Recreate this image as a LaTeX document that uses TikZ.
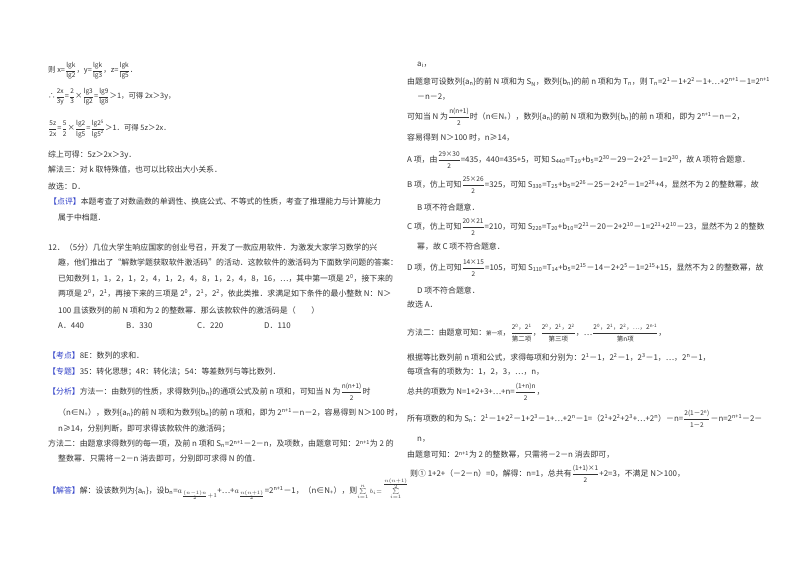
\documentclass[tikz,border=0pt]{standalone}
\usepackage{amsmath}
\usepackage{fontspec}
\setmainfont{Noto Sans CJK SC}
\newcommand\spx[1]{\textsuperscript{#1}}
\newcommand\sbx[1]{\textsubscript{#1}}
\newcommand\fr[2]{$\dfrac{\text{\fontsize{6.5}{7}\selectfont #1}}{\text{\fontsize{6.5}{7}\selectfont #2}}$}
\definecolor{txt}{HTML}{333333}
\definecolor{lab}{HTML}{2F3FC8}
\newcommand\lb[1]{\textcolor{lab}{【#1】}}
\begin{document}
\begin{tikzpicture}[x=1pt,y=-1pt,
  t/.style={anchor=west,inner sep=0pt,text=txt,font=\fontsize{7.9}{9}\selectfont},
  s/.style={t,font=\fontsize{7.4}{8}\selectfont}]
\useasboundingbox[fill=white] (0,0) rectangle (800,565);
% left column
\node[s] (l1) at (48,71) {则 x=\fr{lgk}{lg2}，y=\fr{lgk}{lg3}，z=\fr{lgk}{lg5}．};
\node[s] (l2) at (48,97) {∴\fr{2x}{3y}=\fr{2}{3}×\fr{lg3}{lg2}=\fr{lg9}{lg8}＞1，可得 2x＞3y，};
\node[s] (l3) at (48,129) {\fr{5z}{2x}=\fr{5}{2}×\fr{lg2}{lg5}=\fr{lg2\spx{5}}{lg5\spx{2}}＞1．可得 5z＞2x．};
\node[t] (l4) at (48,155) {综上可得：5z＞2x＞3y．};
\node[t] (l5) at (48,170) {解法三：对 k 取特殊值，也可以比较出大小关系．};
\node[t] (l6) at (48,186) {故选：D．};
\node[t] (l7) at (49,202) {\lb{点评}本题考查了对数函数的单调性、换底公式、不等式的性质，考查了推理能力与计算能力};
\node[t] (l8) at (58,217) {属于中档题．};
\node[t] (l9) at (48,248) {12．（5分）几位大学生响应国家的创业号召，开发了一款应用软件．为激发大家学习数学的兴};
\node[t] (l10) at (58,263) {趣，他们推出了“解数学题获取软件激活码”的活动．这款软件的激活码为下面数学问题的答案：};
\node[t] (l11) at (58,278) {已知数列 1，1，2，1，2，4，1，2，4，8，1，2，4，8，16，…，其中第一项是 2\spx{0}，接下来的};
\node[t] (l12) at (58,293) {两项是 2\spx{0}，2\spx{1}，再接下来的三项是 2\spx{0}，2\spx{1}，2\spx{2}，依此类推．求满足如下条件的最小整数 N：N＞};
\node[t] (l13) at (58,310) {100 且该数列的前 N 项和为 2 的整数幂．那么该款软件的激活码是（\quad\quad）};
\node[t] (oa) at (58,326) {A．440};
\node[t] (ob) at (126,326) {B．330};
\node[t] (oc) at (197,326) {C．220};
\node[t] (od) at (264,326) {D．110};
\node[t] (l14) at (48,355) {\lb{考点}8E：数列的求和．};
\node[t] (l15) at (48,372) {\lb{专题}35：转化思想；4R：转化法；54：等差数列与等比数列．};
\node[t] (l16) at (48,392) {\lb{分析}方法一：由数列的性质，求得数列\{b\sbx{n}\}的通项公式及前 n 项和，可知当 N 为\fr{n(n+1)}{2}时};
\node[t] (l17) at (58,413) {（n∈N\sbx{+}），数列\{a\sbx{n}\}的前 N 项和为数列\{b\sbx{n}\}的前 n 项和，即为 2\spx{n+1}－n－2，容易得到 N＞100 时，};
\node[t] (l18) at (58,429) {n≥14，分别判断，即可求得该款软件的激活码；};
\node[t] (l19) at (48,444) {方法二：由题意求得数列的每一项，及前 n 项和 S\sbx{n}=2\spx{n+1}－2－n，及项数，由题意可知：2\spx{n+1}为 2 的};
\node[t] (l20) at (58,459) {整数幂．只需将－2－n 消去即可，分别即可求得 N 的值．};
\node[t] (l21) at (48,489) {\lb{解答}解：设该数列为\{a\sbx{n}\}，设b\sbx{n}=$a_{\frac{(n-1)n}{2}+1}$+…+$a_{\frac{n(n+1)}{2}}$=2\spx{n+1}－1，（n∈N\sbx{+}），则{\fontsize{5.8}{7}\selectfont$\sum\limits_{i=1}^{n}b_i{=}\sum\limits_{i=1}^{\frac{n(n+1)}{2}}$}};
% right column
\node[t] (r1) at (417,65) {a\sbx{i}，};
\node[t] (r2) at (407,82) {由题意可设数列\{a\sbx{n}\}的前 N 项和为 S\sbx{N}，数列\{b\sbx{n}\}的前 n 项和为 T\sbx{n}，则 T\sbx{n}=2\spx{1}－1+2\spx{2}－1+…+2\spx{n+1}－1=2\spx{n+1}};
\node[t] (r3) at (417,97) {－n－2，};
\node[t] (r4) at (407,117) {可知当 N 为\fr{n(n+1)}{2}时（n∈N\sbx{+}），数列\{a\sbx{n}\}的前 N 项和为数列\{b\sbx{n}\}的前 n 项和，即为 2\spx{n+1}－n－2，};
\node[t] (r5) at (407,138) {容易得到 N＞100 时，n≥14，};
\node[t] (r6) at (407,160) {A 项，由\fr{29×30}{2}=435，440=435+5，可知 S\sbx{440}=T\sbx{29}+b\sbx{5}=2\spx{30}－29－2+2\spx{5}－1=2\spx{30}，故 A 项符合题意．};
\node[t] (r7) at (407,185) {B 项，仿上可知\fr{25×26}{2}=325，可知 S\sbx{330}=T\sbx{25}+b\sbx{5}=2\spx{26}－25－2+2\spx{5}－1=2\spx{26}+4，显然不为 2 的整数幂，故};
\node[t] (r8) at (417,207) {B 项不符合题意．};
\node[t] (r9) at (407,227) {C 项，仿上可知\fr{20×21}{2}=210，可知 S\sbx{220}=T\sbx{20}+b\sbx{10}=2\spx{21}－20－2+2\spx{10}－1=2\spx{21}+2\spx{10}－23，显然不为 2 的整数};
\node[t] (r10) at (417,247) {幂，故 C 项不符合题意．};
\node[t] (r11) at (407,268) {D 项，仿上可知\fr{14×15}{2}=105，可知 S\sbx{110}=T\sbx{14}+b\sbx{5}=2\spx{15}－14－2+2\spx{5}－1=2\spx{15}+15，显然不为 2 的整数幂，故};
\node[t] (r12) at (417,290) {D 项不符合题意．};
\node[t] (r13) at (407,304) {故选 A．};
\node[t] (r14) at (407,333) {方法二：由题意可知：{\fontsize{5.5}{6}\selectfont 第一项}，\fr{2\spx{0}，2\spx{1}}{第二项}，\fr{2\spx{0}，2\spx{1}，2\spx{2}}{第三项}，…\fr{2\spx{0}，2\spx{1}，2\spx{2}，…，2\spx{n-1}}{第n项}，};
\node[t] (r15) at (407,357) {根据等比数列前 n 项和公式，求得每项和分别为：2\spx{1}－1，2\spx{2}－1，2\spx{3}－1，…，2\spx{n}－1，};
\node[t] (r16) at (407,372) {每项含有的项数为：1，2，3，…，n，};
\node[t] (r17) at (407,392) {总共的项数为 N=1+2+3+…+n=\fr{(1+n)n}{2}，};
\node[t] (r18) at (407,419) {所有项数的和为 S\sbx{n}：2\spx{1}－1+2\spx{2}－1+2\spx{3}－1+…+2\spx{n}－1=（2\spx{1}+2\spx{2}+2\spx{3}+…+2\spx{n}）－n=\fr{2(1－2\spx{n})}{1－2}－n=2\spx{n+1}－2－};
\node[t] (r19) at (417,440) {n，};
\node[t] (r20) at (407,455) {由题意可知：2\spx{n+1}为 2 的整数幂，只需将－2－n 消去即可，};
\node[t] (r21) at (410,474) {则① 1+2+（－2－n）=0，解得：n=1，总共有\fr{(1+1)×1}{2}+2=3，不满足 N＞100，};
\end{tikzpicture}
\end{document}
